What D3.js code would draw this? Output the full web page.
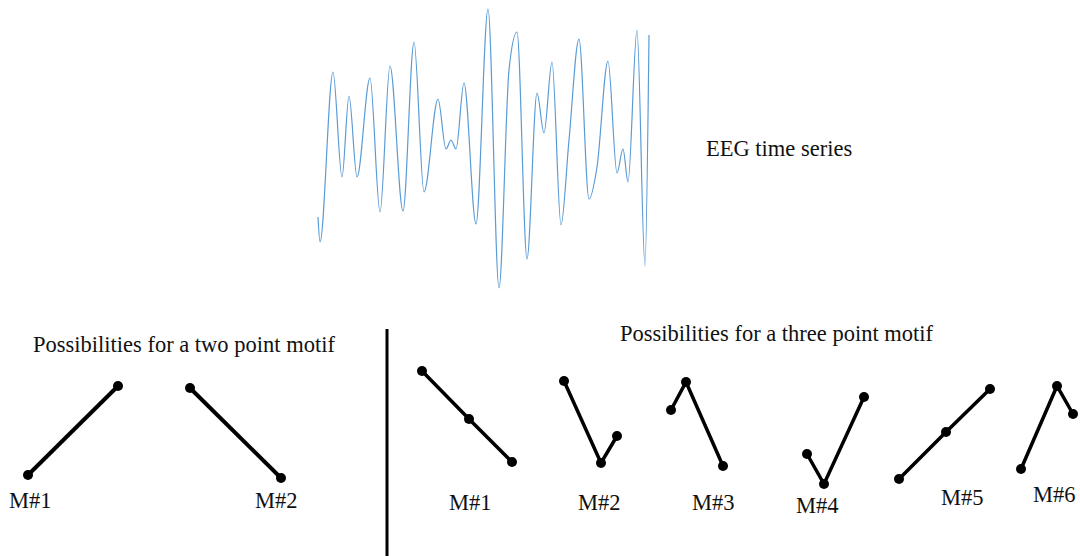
<!DOCTYPE html>
<html>
<head>
<meta charset="utf-8">
<script src="https://cdn.jsdelivr.net/npm/d3@7"></script>
<style>
  html, body { margin: 0; padding: 0; background: #fff; }
</style>
</head>
<body>
<script>
// EEG trace: sample index and amplitude (arbitrary units)
var eegTime = [0, 2, 15, 24, 31, 39, 52, 62, 72, 85, 96, 106, 120, 128, 133, 138, 146, 158, 170, 181, 191, 199, 209, 219, 226, 234, 243, 251, 261, 271, 279, 290, 299, 305, 310, 319, 327, 331];
var eegAmp  = [-67, -92, 78, -27, 54, -27, 72, -62, 84, -61, 108, -42, 51, 1, 10, 1, 67, -74, 141, -138, 80, 118, -109, 57, 17, 88, -75, 10, 111, -49, -17, 89, -23, 1, -32, 120, -116, 115];

// motif sketches: label, step position and level of each point
var twoPointLabels = ['M#1', 'M#2'];
var twoPointMotifs = [
  [[2.8, 4.5], [11.8, 13.4]],
  [[19.0, 13.2], [28.1, 4.2]]
];
var twoPointLabelPos = [[0.9, 1.2], [25.5, 1.2]];

var threePointLabels = ['M#1', 'M#2', 'M#3', 'M#4', 'M#5', 'M#6'];
var threePointMotifs = [
  [[42.2, 14.9], [46.9, 10.1], [51.2, 5.8]],
  [[56.4, 13.9], [60.1, 5.7], [61.7, 8.4]],
  [[67.1, 11.0], [68.6, 13.8], [72.3, 5.4]],
  [[80.7, 6.6], [82.4, 3.6], [86.4, 12.3]],
  [[89.9, 4.1], [94.6, 8.8], [99.0, 13.1]],
  [[102.1, 5.1], [105.7, 13.4], [107.3, 10.6]]
];
var threePointLabelPos = [[44.9, 1.0], [57.8, 1.0], [69.2, 1.0], [79.6, 0.7], [94.1, 1.5], [103.3, 1.8]];

var width = 1080, height = 556;
var serif = "'Liberation Serif', 'Times New Roman', 'DejaVu Serif', serif";

var svg = d3.select("body")
  .append("svg")
  .attr("width", width)
  .attr("height", height);

// EEG
var x = d3.scaleLinear().domain([0, 331]).range([318, 649]);
var y = d3.scaleLinear().domain([-140, 141]).range([290, 9]);

var eegData = eegTime.map(function (t, i) { return [t, eegAmp[i]]; });

svg.append("path")
  .datum(eegData)
  .attr("fill", "none")
  .attr("stroke", "#5b9bd5")
  .attr("stroke-width", 1.2)
  .attr("d", d3.line()
    .x(function (d) { return x(d[0]); })
    .y(function (d) { return y(d[1]); })
    .curve(d3.curveMonotoneX));

function label(sel) {
  return sel.attr("font-family", serif)
    .attr("font-size", "22.5px")
    .attr("fill", "#111");
}

label(svg.append("text"))
  .attr("x", 706)
  .attr("y", 156)
  .text("EEG time series");

// motif panels
var mx = d3.scaleLinear().domain([0, 108]).range([0, 1080]);
var my = d3.scaleLinear().domain([0, 10]).range([520, 420]);

label(svg.append("text"))
  .attr("x", 33)
  .attr("y", 352)
  .text("Possibilities for a two point motif");

label(svg.append("text"))
  .attr("x", 620)
  .attr("y", 341)
  .text("Possibilities for a three point motif");

svg.append("line")
  .attr("x1", 387).attr("x2", 387)
  .attr("y1", 329).attr("y2", height)
  .attr("stroke", "#000")
  .attr("stroke-width", 3);

var motifLine = d3.line()
  .x(function (d) { return mx(d[0]); })
  .y(function (d) { return my(d[1]); });

function drawMotifs(motifs, labels, labelPos, lw, r) {
  var g = svg.append("g");
  g.selectAll("path.motif")
    .data(motifs)
    .enter().append("path")
    .attr("class", "motif")
    .attr("fill", "none")
    .attr("stroke", "#000")
    .attr("stroke-width", lw)
    .attr("d", motifLine);

  motifs.forEach(function (pts) {
    g.selectAll(null)
      .data(pts)
      .enter().append("circle")
      .attr("cx", function (d) { return mx(d[0]); })
      .attr("cy", function (d) { return my(d[1]); })
      .attr("r", r)
      .attr("fill", "#000");
  });

  label(g.selectAll("text")
    .data(labels)
    .enter().append("text"))
    .attr("x", function (d, i) { return mx(labelPos[i][0]); })
    .attr("y", function (d, i) { return my(labelPos[i][1]); })
    .text(function (d) { return d; });
}

drawMotifs(twoPointMotifs, twoPointLabels, twoPointLabelPos, 4, 5);
drawMotifs(threePointMotifs, threePointLabels, threePointLabelPos, 3.5, 5);
</script>
</body>
</html>
